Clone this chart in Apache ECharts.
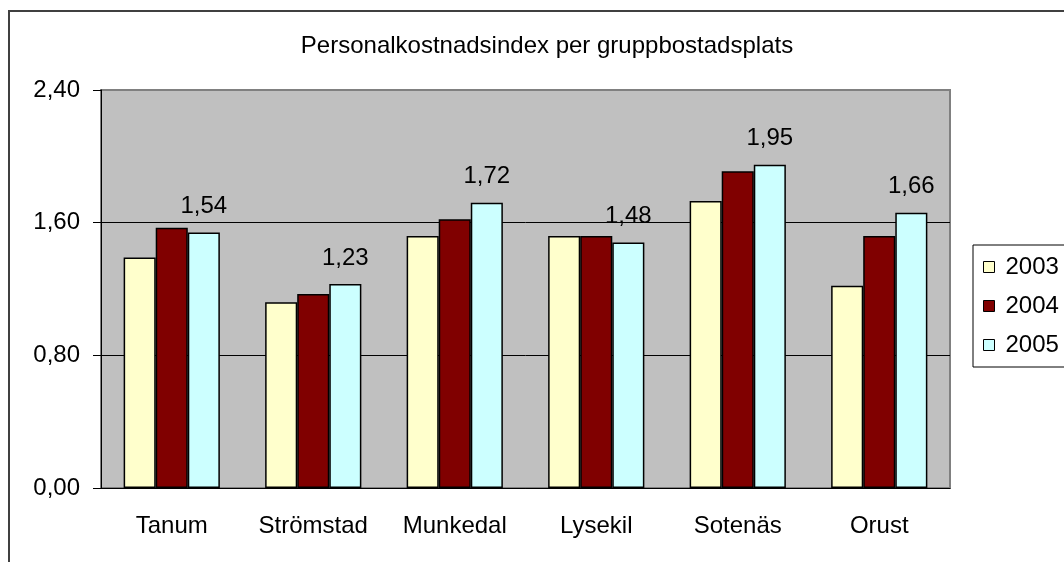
<!DOCTYPE html>
<html>
<head>
<meta charset="utf-8">
<script src="https://cdn.jsdelivr.net/npm/echarts@6/dist/echarts.min.js"></script>
<style>
  html, body { margin: 0; padding: 0; background: #fff; }
  #chart { width: 1064px; height: 562px; }
</style>
</head>
<body>
<div id="chart"></div>
<script>
const kommuner = ['Tanum', 'Strömstad', 'Munkedal', 'Lysekil', 'Sotenäs', 'Orust'];
const years = ['2003', '2004', '2005'];
const values2003 = [1.39, 1.12, 1.52, 1.52, 1.73, 1.22];
const values2004 = [1.57, 1.17, 1.62, 1.52, 1.91, 1.52];
const values2005 = [1.54, 1.23, 1.72, 1.48, 1.95, 1.66];
const yTicks = { min: 0, max: 2.4, interval: 0.8 };

const colors = ['#FFFFCC', '#800000', '#CCFFFF'];
const font = 'Liberation Sans, Arial, sans-serif';
const komma = v => v.toFixed(2).replace('.', ',');

let myChart = echarts.init(document.getElementById('chart'));
let seriesData = [values2003, values2004, values2005];

let option = {
    animation: false,
    textStyle: { fontFamily: font },
    title: {
        text: 'Personalkostnadsindex per gruppbostadsplats',
        left: 542,
        textAlign: 'center',
        top: 29,
        textStyle: { fontSize: 24, fontWeight: 'normal', color: '#000', fontFamily: font }
    },
    graphic: [{
        // yttre ram
        type: 'rect',
        shape: { x: 9, y: 11, width: 1100, height: 600 },
        style: { fill: 'none', stroke: '#404040', lineWidth: 2 },
        silent: true
    }],
    legend: {
        orient: 'vertical',
        left: 973,
        top: 245,
        padding: [10, 60, 10, 10],
        itemWidth: 11,
        itemHeight: 11,
        itemGap: 15,
        borderColor: '#000',
        borderWidth: 1,
        icon: 'rect',
        itemStyle: { borderColor: '#000', borderWidth: 1 },
        textStyle: { fontSize: 24, color: '#000', lineHeight: 24, padding: [0, 0, 0, 6], fontFamily: font },
        data: years
    },
    grid: {
        left: 101, right: 114, top: 90, bottom: 74,
        show: true,
        backgroundColor: '#C0C0C0',
        borderColor: '#808080',
        borderWidth: 2
    },
    xAxis: {
        type: 'category',
        data: kommuner,
        axisLine: { lineStyle: { color: '#000', width: 1 } },
        axisTick: { length: 7, lineStyle: { color: '#000' } },
        axisLabel: { interval: 0, fontSize: 24, color: '#000', margin: 26, fontFamily: font }
    },
    yAxis: {
        type: 'value',
        min: yTicks.min,
        max: yTicks.max,
        interval: yTicks.interval,
        axisLine: { show: true, lineStyle: { color: '#000', width: 1 } },
        axisTick: { show: true, length: 8, lineStyle: { color: '#000' } },
        axisLabel: { fontSize: 24, color: '#000', margin: 21, formatter: komma, fontFamily: font },
        splitLine: { show: true, showMaxLine: false, lineStyle: { color: '#000', width: 1 } }
    },
    series: []
};

seriesData.forEach((data, i) => {
    option.series.push({
        name: years[i],
        type: 'bar',
        data: data,
        barGap: '0%',
        barCategoryGap: '32%',
        itemStyle: { color: colors[i], borderColor: '#000', borderWidth: 1.5 },
        label: {
            show: i === 2, // bara 2005 har etikett
            position: 'top',
            distance: 14,
            fontSize: 24,
            color: '#000',
            fontFamily: font,
            formatter: p => komma(p.value)
        }
    });
});

myChart.setOption(option);
</script>
</body>
</html>
